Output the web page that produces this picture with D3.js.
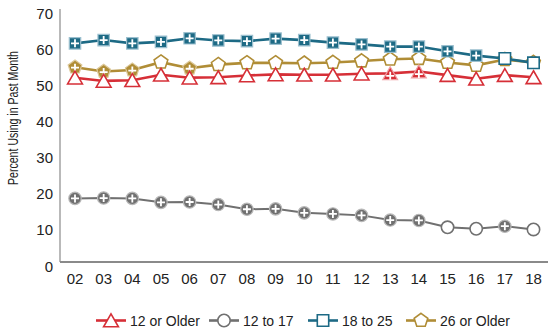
<!DOCTYPE html>
<html><head><meta charset="utf-8">
<script src="https://cdn.jsdelivr.net/npm/d3@7/dist/d3.min.js"></script>
<style>
html,body{margin:0;padding:0;background:#fff;}
svg{display:block;font-family:"Liberation Sans",Arial,sans-serif;}
</style></head>
<body><svg id="c" width="556" height="335"></svg>
<script>
const years = ["02","03","04","05","06","07","08","09","10","11","12","13","14","15","16","17","18"];
const yTicks = [0,10,20,30,40,50,60,70];
const seriesNames = ["12 or Older","12 to 17","18 to 25","26 or Older"];
const older12 = [51.0,50.1,50.3,51.8,51.0,51.1,51.6,51.9,51.8,51.8,52.1,52.2,52.7,51.7,50.7,51.7,51.1];
const age12to17 = [17.6,17.7,17.6,16.5,16.6,15.9,14.6,14.7,13.6,13.3,12.9,11.6,11.5,9.6,9.2,9.9,9.0];
const age18to25 = [60.5,61.4,60.5,60.9,61.9,61.3,61.1,61.8,61.4,60.7,60.2,59.6,59.6,58.3,57.1,56.3,55.1];
const older26 = [53.9,52.7,53.1,55.3,53.6,54.6,55.1,55.1,55.0,55.2,55.6,56.1,56.3,55.2,54.4,56.0,55.2];
// 1 = significantly different from 2018 (filled marker with plus)
const sig12older = [0,0,0,0,0,0,0,0,0,0,0,1,1,0,0,0,0];
const sig12to17  = [1,1,1,1,1,1,1,1,1,1,1,1,1,0,0,1,0];
const sig18to25  = [1,1,1,1,1,1,1,1,1,1,1,1,1,1,1,0,0];
const sig26older = [1,1,1,0,1,0,0,0,0,0,0,0,0,0,0,0,0];
const colors = ["#d62f37","#707070","#1d6a85","#b08d36"];
const lightColors = ["#f0a0a4","#b8b8b8","#9cc0cf","#dcc89a"];
const shapes = ["triangle","circle","square","pentagon"];

const svg = d3.select("#c");
const x = d3.scalePoint().domain(years).range([75, 533.5]);
const y = d3.scaleLinear().domain([0,70]).range([262, 9]);

// axes
svg.append("line").attr("x1",60).attr("x2",60).attr("y1",y(70)).attr("y2",y(0))
  .attr("stroke","#8a8a8a").attr("stroke-width",1.2);
svg.append("line").attr("x1",60).attr("x2",548).attr("y1",y(0)).attr("y2",y(0))
  .attr("stroke","#8a8a8a").attr("stroke-width",2);
svg.append("g").selectAll("text").data(yTicks).join("text")
  .attr("x",53).attr("y",d=>y(d)+9.5).attr("text-anchor","end")
  .attr("font-size",15).attr("fill","#222").text(d=>d);
svg.append("g").selectAll("text").data(years).join("text")
  .attr("x",d=>x(d)).attr("y",284).attr("text-anchor","middle")
  .attr("font-size",15).attr("fill","#222").text(d=>d);
svg.append("text").attr("transform","translate(18,118) rotate(-90)")
  .attr("text-anchor","middle").attr("font-size",14.5).attr("fill","#222")
  .attr("textLength",134).attr("lengthAdjust","spacingAndGlyphs")
  .text("Percent Using in Past Month");

function shapePath(shape, s){
  if(shape==="triangle") return d3.symbol(d3.symbolTriangle, 95*s*s)();
  if(shape==="circle") return d3.symbol(d3.symbolCircle, 120*s*s)();
  if(shape==="square") return d3.symbol(d3.symbolSquare, 130*s*s)();
  const r = 7.2*s, p = d3.path();
  for(let i=0;i<5;i++){
    const a = -Math.PI/2 + i*2*Math.PI/5;
    if(i===0) p.moveTo(r*Math.cos(a), r*Math.sin(a)); else p.lineTo(r*Math.cos(a), r*Math.sin(a));
  }
  p.closePath();
  return p.toString();
}
function drawMarker(g, shape, ci, filled, s){
  const inner = g.append("g").attr("transform", shape==="triangle" ? "translate(0,2)" : null);
  if(filled){
    inner.append("path").attr("d",shapePath(shape,s)).attr("fill",colors[ci])
      .attr("stroke",lightColors[ci]).attr("stroke-width",1.2);
    const c = shape==="triangle" ? 0.5 : (shape==="pentagon" ? 0.5 : 0);
    inner.append("path").attr("d","M-4,"+c+"H4M0,"+(c-4)+"V"+(c+4))
      .attr("stroke","#fff").attr("stroke-width",1.8);
  } else {
    inner.append("path").attr("d",shapePath(shape,s)).attr("fill","#fff")
      .attr("stroke",colors[ci]).attr("stroke-width",1.6);
  }
}

const series = [
  {vals:older26, sig:sig26older, ci:3},
  {vals:older12, sig:sig12older, ci:0},
  {vals:age12to17, sig:sig12to17, ci:1},
  {vals:age18to25, sig:sig18to25, ci:2}
];
const line = d3.line().x((d,i)=>x(years[i])).y(d=>y(d));
series.forEach(s=>{
  const g = svg.append("g");
  g.append("path").datum(s.vals).attr("d",line).attr("fill","none")
    .attr("stroke",colors[s.ci]).attr("stroke-width", s.ci===1?2:2.6);
  s.vals.forEach((v,i)=>{
    const m = g.append("g").attr("transform",`translate(${x(years[i])},${y(v)})`);
    drawMarker(m, shapes[s.ci], s.ci, s.sig[i]===1, 1);
  });
});

// legend
const legX = [96, 209, 308, 406];
const lg = svg.append("g");
seriesNames.forEach((n,i)=>{
  const g = lg.append("g").attr("transform",`translate(${legX[i]},320.5)`);
  g.append("line").attr("x1",0).attr("x2",30).attr("y1",0).attr("y2",0)
    .attr("stroke",colors[i]).attr("stroke-width",2.6);
  const m = g.append("g").attr("transform","translate(15,0)");
  drawMarker(m, shapes[i], i, false, 1.0);
  g.append("text").attr("x",34).attr("y",5).attr("font-size",14).attr("fill","#222").text(n);
});
</script></body></html>
